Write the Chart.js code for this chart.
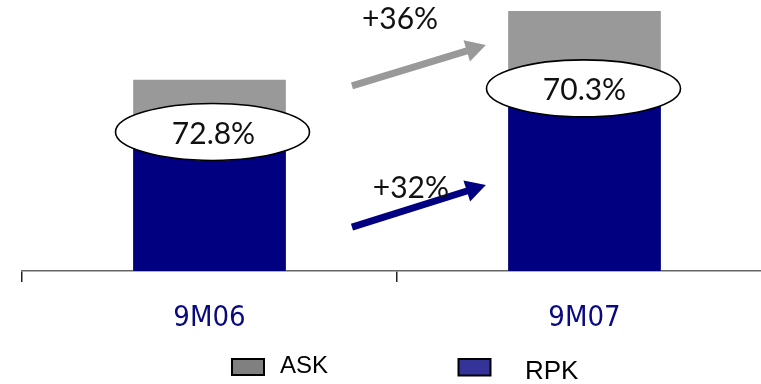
<!DOCTYPE html>
<html>
<head>
<meta charset="utf-8">
<script src="https://cdn.jsdelivr.net/npm/chart.js@4/dist/chart.umd.min.js"></script>
<style>
  html, body { margin: 0; padding: 0; background: #ffffff; }
  #wrap { width: 761px; height: 384px; }
</style>
</head>
<body>
<div id="wrap"><canvas id="c" width="761" height="384"></canvas></div>
<script>
// Periods and capacity / traffic indices (9M06 ASK = 100)
const categories = ['9M06', '9M07'];
const askIndex = [100, 136];
const rpkIndex = [72.8, 95.6];
const loadFactorLabels = ['72.8%', '70.3%'];
const growthLabels = ['+36%', '+32%'];   // ASK growth, RPK growth

// Arrow annotations between the two periods, in axis units
const arrows = [
  { from: [0.88, 96.9], to: [1.237, 118.3], color: '#999999', label: growthLabels[0], labelAt: [1.008, 132.0] },
  { from: [0.88, 23.0], to: [1.237, 45.0], color: '#000080', label: growthLabels[1], labelAt: [1.037, 43.5] }
];

const CONDENSED = '"DejaVu Sans Condensed", "Liberation Sans Narrow", sans-serif';

const overlay = {
  id: 'overlay',
  afterDatasetsDraw(chart) {
    const { ctx, scales: { x, y } } = chart;
    ctx.save();

    // growth arrows
    arrows.forEach(a => {
      const x0 = x.getPixelForValue(a.from[0]), y0 = y.getPixelForValue(a.from[1]);
      const x1 = x.getPixelForValue(a.to[0]),   y1 = y.getPixelForValue(a.to[1]);
      const ang = Math.atan2(y1 - y0, x1 - x0);
      const headLen = 20, headHalf = 11, shaft = 7;
      const bx = x1 - headLen * Math.cos(ang), by = y1 - headLen * Math.sin(ang);
      ctx.strokeStyle = a.color;
      ctx.lineWidth = shaft;
      ctx.lineCap = 'butt';
      ctx.beginPath();
      ctx.moveTo(x0, y0);
      ctx.lineTo(bx + Math.cos(ang), by + Math.sin(ang));
      ctx.stroke();
      ctx.fillStyle = a.color;
      ctx.beginPath();
      ctx.moveTo(x1, y1);
      ctx.lineTo(bx - headHalf * Math.sin(ang), by + headHalf * Math.cos(ang));
      ctx.lineTo(bx + headHalf * Math.sin(ang), by - headHalf * Math.cos(ang));
      ctx.closePath();
      ctx.fill();
    });

    ctx.fillStyle = '#111111';
    ctx.font = '30px Lato, "Open Sans", sans-serif';
    ctx.textAlign = 'center';
    ctx.textBaseline = 'middle';
    arrows.forEach(a => {
      ctx.fillText(a.label, x.getPixelForValue(a.labelAt[0]), y.getPixelForValue(a.labelAt[1]));
    });

    // load-factor ellipses sitting on the RPK level of each bar
    const ellipseShift = [3, -1];
    categories.forEach((c, i) => {
      const cx = x.getPixelForValue(i + 0.5) + ellipseShift[i];
      const cy = y.getPixelForValue(rpkIndex[i]);
      ctx.beginPath();
      ctx.ellipse(cx, cy, 97, 28.5, 0, 0, Math.PI * 2);
      ctx.fillStyle = '#ffffff';
      ctx.fill();
      ctx.lineWidth = 1.6;
      ctx.strokeStyle = '#000000';
      ctx.stroke();
      ctx.fillStyle = '#111111';
      ctx.font = '30px Lato, "Open Sans", sans-serif';
      ctx.fillText(loadFactorLabels[i], cx + 1, cy + 2);
    });
    ctx.restore();
  },
  afterDraw(chart) {
    // legend
    const { ctx } = chart;
    ctx.save();
    const items = [
      { text: 'ASK', fill: '#808080', box: [232, 359, 32, 16], tx: 280, ty: 366, size: 24 },
      { text: 'RPK', fill: '#333399', box: [458.5, 359, 32, 16.5], tx: 525, ty: 371.5, size: 26 }
    ];
    items.forEach(it => {
      ctx.fillStyle = it.fill;
      ctx.fillRect(...it.box);
      ctx.lineWidth = 2;
      ctx.strokeStyle = '#000000';
      ctx.strokeRect(...it.box);
      ctx.fillStyle = '#000000';
      ctx.font = it.size + 'px "Liberation Sans", Arial, sans-serif';
      ctx.textAlign = 'left';
      ctx.textBaseline = 'middle';
      ctx.fillText(it.text, it.tx, it.ty);
    });
    ctx.restore();
  }
};

new Chart(document.getElementById('c'), {
  type: 'bar',
  data: {
    datasets: [
      {
        label: 'ASK',
        data: categories.map((c, i) => ({ x: i + 0.5, y: askIndex[i] })),
        backgroundColor: '#999999',
        order: 1
      },
      {
        label: 'RPK',
        data: categories.map((c, i) => ({ x: i + 0.5, y: rpkIndex[i] })),
        backgroundColor: '#000080',
        order: 0
      }
    ]
  },
  options: {
    responsive: false,
    animation: false,
    events: [],
    datasets: { bar: { grouped: false, barThickness: 152, borderWidth: 0 } },
    layout: { padding: { left: 22, right: 0, top: 3.6, bottom: 0 } },
    plugins: { legend: { display: false }, tooltip: { enabled: false } },
    scales: {
      x: {
        type: 'linear',
        offset: false,
        min: 0,
        max: (761 - 22) / 375,
        afterFit: s => { s.height = 113; s.paddingLeft = 0; s.paddingRight = 0; },
        afterBuildTicks: s => { s.ticks = [0, 0.5, 1, 1.5].map(v => ({ value: v })); },
        grid: {
          offset: false,
          drawOnChartArea: false,
          tickLength: 11,
          lineWidth: 1.5,
          color: c => (c.tick && Number.isInteger(c.tick.value)) ? '#222222' : 'rgba(0,0,0,0)'
        },
        border: { color: '#666666', width: 1.5 },
        ticks: {
          autoSkip: false,
          maxRotation: 0,
          padding: 19,
          color: '#0a0a80',
          font: { family: CONDENSED, size: 29 },
          callback: v => Number.isInteger(v) ? '' : (categories[Math.floor(v)] || '')
        }
      },
      y: { display: false, min: 0, max: 140 }
    }
  },
  plugins: [overlay]
});
</script>
</body>
</html>
